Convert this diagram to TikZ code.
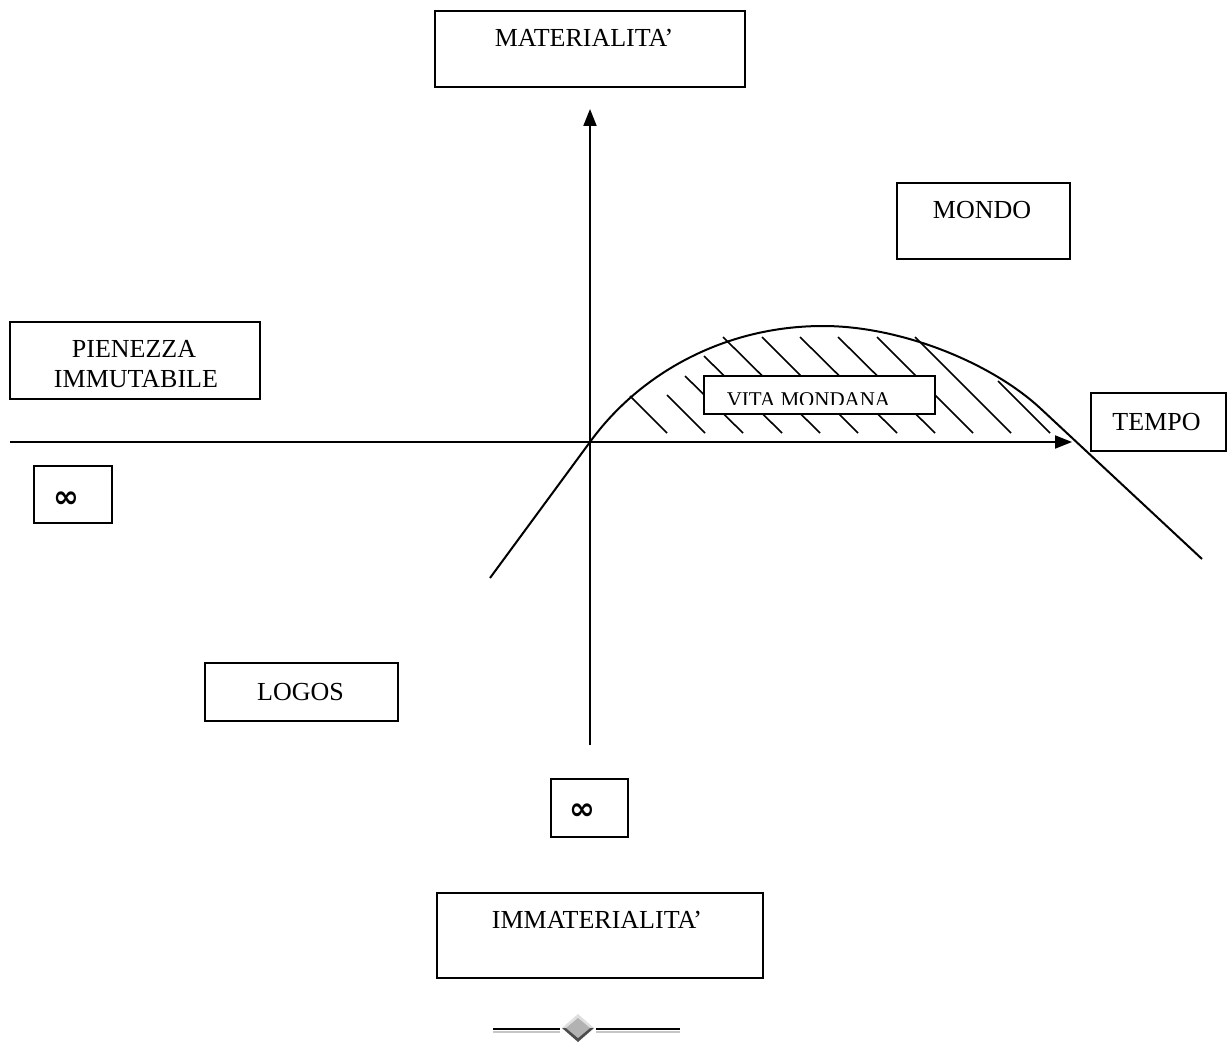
\documentclass[tikz,border=0pt]{standalone}
\usepackage{fontspec}
\setmainfont{Liberation Serif}
\newfontfamily\symfont{DejaVu Sans}
\usetikzlibrary{arrows.meta}
\begin{document}
\begin{tikzpicture}[x=1pt,y=-1pt,
  box/.style={draw=black,line width=2pt,fill=white,inner sep=0pt},
  lbl/.style={inner sep=0pt,font=\fontsize{26}{30}\selectfont},
  inf/.style={inner sep=0pt,font=\fontsize{31}{34}\selectfont\symfont\bfseries},
  axis/.style={line width=2pt,-{Triangle[length=17pt,width=13pt]}},
  curve/.style={line width=2pt},
  hatch/.style={line width=1.6pt}]
\useasboundingbox (0,0) rectangle (1230,1043);
% boxes
\node[box,minimum width=310pt,minimum height=76pt] (mat) at (590,49) {};
\node[lbl,anchor=base] (matt) at (584,47) {MATERIALITA’};
\node[box,minimum width=173pt,minimum height=76pt] (mon) at (983.5,221) {};
\node[lbl,anchor=base] (mont) at (982,218) {MONDO};
\node[box,minimum width=250pt,minimum height=77pt] (pie) at (135,360.5) {};
\node[lbl,anchor=base] (piet1) at (134,357) {PIENEZZA};
\node[lbl,anchor=base] (piet2) at (136,387) {IMMUTABILE};
\node[box,minimum width=78pt,minimum height=57pt] (inf1) at (73,494.5) {};
\node[inf] (inf1t) at (66.5,500) {∞};
\node[box,minimum width=135pt,minimum height=58pt] (tem) at (1158.5,422) {};
\node[lbl,anchor=base] (temt) at (1156.5,430) {TEMPO};
\node[box,minimum width=193pt,minimum height=58pt] (log) at (301.5,692) {};
\node[lbl,anchor=base] (logt) at (300.5,700) {LOGOS};
\node[box,minimum width=77pt,minimum height=58pt] (inf2) at (589.5,808) {};
\node[inf] (inf2t) at (582.5,812) {∞};
\node[box,minimum width=326pt,minimum height=85pt] (imm) at (600,935.5) {};
\node[lbl,anchor=base] (immt) at (597,928) {IMMATERIALITA’};
% axes
\coordinate (xs) at (10,442);
\coordinate (xe) at (1072,442);
\coordinate (ys) at (590,745);
\coordinate (ye) at (590,109);
\draw[axis] (xs) -- (xe);
\draw[axis] (ys) -- (ye);
% curve
\coordinate (ca) at (490,578);
\coordinate (cb) at (590,442);
\coordinate (cp) at (823,326);
\coordinate (cq) at (1040,408);
\coordinate (ce) at (1202,559);
\draw[curve,line join=round] (ca) -- (cb) .. controls (640,373) and (725,326) .. (cp)
  .. controls (900,326) and (990,362) .. (cq) -- (ce);
% hatching
\foreach \xt/\yt/\xb in {630/396/667, 667/395/705, 685/376/743, 704/356/782, 723/337/820, 762/337/858, 800/337/897, 838/337/935, 877/337/973, 915/337/1011, 998/381/1050}{
  \draw[hatch] (\xt,\yt) -- (\xb,433);
}
% vita mondana
\node[box,line width=2pt,minimum width=231pt,minimum height=38pt] (vit) at (819.5,395) {};
\begin{scope}
\clip (706,377) rectangle (933,404);
\node[inner sep=0pt,anchor=base,font=\fontsize{21}{24}\selectfont] (vitt) at (808.5,406) {VITA MONDANA};
\end{scope}
% ornament
\coordinate (ol1) at (493,1030);
\coordinate (ol2) at (560,1030);
\coordinate (or1) at (596,1030);
\coordinate (or2) at (680,1030);
\draw[gray!45,line width=2pt] ([yshift=-1.6pt]ol1) -- ([yshift=-1.6pt]ol2);
\draw[black,line width=2.6pt] ([yshift=1pt]ol1) -- ([yshift=1pt]ol2);
\draw[gray!45,line width=2pt] ([yshift=-1.6pt]or1) -- ([yshift=-1.6pt]or2);
\draw[black,line width=2.6pt] ([yshift=1pt]or1) -- ([yshift=1pt]or2);
\coordinate (dc) at (578,1028);
\fill[gray!25] (562,1028) -- (578,1014) -- (594,1028) -- cycle;
\fill[black!70] (562,1028) -- (578,1042) -- (594,1028) -- cycle;
\fill[gray!60] (566,1028) -- (578,1018) -- (590,1028) -- (578,1038) -- cycle;
\end{tikzpicture}
\end{document}
